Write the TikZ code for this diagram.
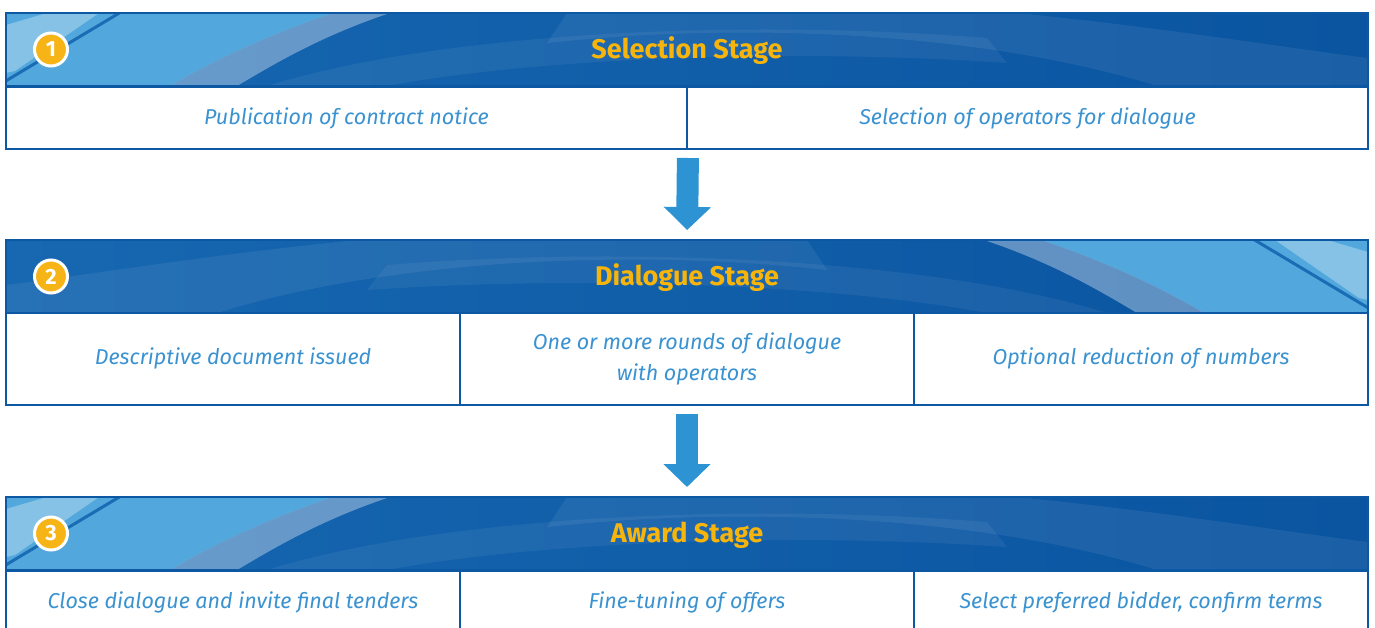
\documentclass[tikz,border=0pt]{standalone}
\usepackage{fontspec}
\setmainfont{Fira Sans}
\usepackage{tikz}
\usetikzlibrary{arrows.meta}
\definecolor{framec}{HTML}{0D58A2}
\definecolor{darkb}{HTML}{1767B1}
\definecolor{deepb}{HTML}{0A54A0}
\definecolor{midb}{HTML}{3682BF}
\definecolor{lightb}{HTML}{52A8DC}
\definecolor{lineb}{HTML}{1A6CB5}
\definecolor{textb}{HTML}{3A92D0}
\definecolor{arrowb}{HTML}{2E93D3}
\definecolor{badgec}{HTML}{F6B416}
\definecolor{titlec}{HTML}{F7B50C}

\begin{document}
\begin{tikzpicture}[x=1pt,y=-1pt]%
  \tikzstyle{banner}=[rectangle,draw=framec,line width=2pt,inner sep=0,minimum width=1362pt,minimum height=73pt,text height=18.5pt,text depth=0pt,text=titlec,font=\fontsize{27}{32}\selectfont\bfseries]
  \tikzstyle{badge}=[circle,fill=badgec,draw=white,line width=3pt,inner sep=0,minimum size=33pt,text=white,font=\fontsize{22}{26}\selectfont\bfseries]
  \tikzstyle{cell}=[rectangle,draw=framec,line width=2pt,inner sep=0,align=center,text=textb,font=\fontsize{21.5}{31}\selectfont\itshape]
  \tikzstyle{bigarrow}=[draw=arrowb,line width=22pt,-{Triangle[width=46pt,length=23pt]},shorten <=8pt,shorten >=9pt]
  \useasboundingbox (0,0) rectangle (1375,628);
  % banner backgrounds, the second one mirrored
  \foreach \y/\s in {13/1,240/-1,497/1}{
    \begin{scope}[shift={(687,\y)},xscale=\s]
      \clip (-681,0) rectangle (681,73);
      \shade[left color=darkb,middle color=midb,right color=deepb] (-681,0) rectangle (681,73);
      \fill[white,opacity=.07] (-120,0) -- (330,0) .. controls (480,15) and (600,35) .. (681,45) -- (681,73) -- (470,73) .. controls (300,20) and (60,8) .. (-140,30) -- cycle;
      \fill[white,opacity=.06] (-420,73) .. controls (-250,20) and (50,5) .. (300,25) -- (320,50) .. controls (100,35) and (-150,45) .. (-300,73) -- cycle;
      \fill[lightb] (-681,0) -- (-354,0) .. controls (-420,22) and (-475,48) .. (-517,73) -- (-681,73) -- cycle;
      \fill[white,opacity=.35] (-354,0) -- (-297,0) .. controls (-363,22) and (-408,48) .. (-450,73) -- (-517,73) .. controls (-475,48) and (-420,22) .. (-354,0);
      \fill[white,opacity=.3] (-681,12) -- (-640,0) -- (-588,0) -- (-672,58) -- (-681,60) -- cycle;
      \draw[lineb,line width=3pt] (-683,69) -- (-566,-1);
    \end{scope}}
  % stage 1
  \node(h1)[banner] at (687,49.5) {Selection Stage};
  \node(n1)[badge] at (51,49.5) {1};
  \node(c11)[cell,minimum width=681pt,minimum height=62pt] at (346.5,118) {Publication of contract notice};
  \node(c12)[cell,minimum width=681pt,minimum height=62pt] at (1027.5,118) {Selection of operators for dialogue};
  % stage 2
  \node(h2)[banner] at (687,276.5) {Dialogue Stage};
  \node(n2)[badge] at (51,276.5) {2};
  \node(c21)[cell,minimum width=454pt,minimum height=92pt] at (233,358.5) {Descriptive document issued};
  \node(c22)[cell,minimum width=454pt,minimum height=92pt] at (687,358.5) {One or more rounds of dialogue\\with operators};
  \node(c23)[cell,minimum width=454pt,minimum height=92pt] at (1141,358.5) {Optional reduction of numbers};
  % stage 3
  \node(h3)[banner] at (687,533.5) {Award Stage};
  \node(n3)[badge] at (51,533.5) {3};
  \node(c31)[cell,minimum width=454pt,minimum height=62pt] at (233,602) {Close dialogue and invite final tenders};
  \node(c32)[cell,minimum width=454pt,minimum height=62pt] at (687,602) {Fine-tuning of offers};
  \node(c33)[cell,minimum width=454pt,minimum height=62pt] at (1141,602) {Select preferred bidder, confirm terms};
  % arrows
  \draw[bigarrow] (c11.south east) -- (h2.north);
  \draw[bigarrow] (c22.south) -- (h3.north);
\end{tikzpicture}
\end{document}
